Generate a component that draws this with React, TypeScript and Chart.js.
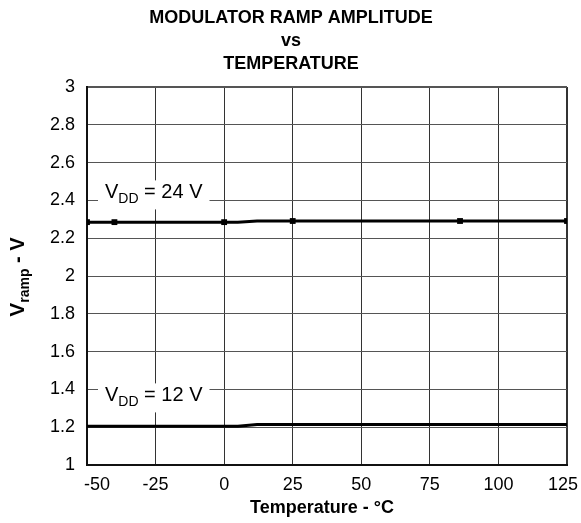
import React, { useEffect, useRef } from "react";
import { Chart, registerables } from "chart.js";

Chart.register(...registerables);

const titleLines = ["MODULATOR RAMP AMPLITUDE", "vs", "TEMPERATURE"];
const xTickValues = [-50, -25, 0, 25, 50, 75, 100, 125];
const yTickValues = [1, 1.2, 1.4, 1.6, 1.8, 2, 2.2, 2.4, 2.6, 2.8, 3];

const temps24 = [-50, -40, 0, 5, 12, 25, 86, 125];
const vramp24 = [2.285, 2.285, 2.285, 2.285, 2.291, 2.291, 2.291, 2.291];
const marks24 = [1, 1, 1, 0, 0, 1, 1, 1];

const temps12 = [-50, 5, 12, 125];
const vramp12 = [1.205, 1.205, 1.214, 1.214];

const labels = [
  { main: "V", sub: "DD", rest: " = 24 V", x: -50, y: 2.4 },
  { main: "V", sub: "DD", rest: " = 12 V", x: -50, y: 1.4 },
];

const FONT = "'Liberation Sans', Arial, sans-serif";

type Part = { text: string; size: number; bold?: boolean; dy: number };

function drawRich(ctx: CanvasRenderingContext2D, parts: Part[], x: number, y: number) {
  let total = 0;
  const widths = parts.map((p) => {
    ctx.font = `${p.bold ? "bold " : ""}${p.size}px ${FONT}`;
    const w = ctx.measureText(p.text).width;
    total += w;
    return w;
  });
  let cx = x - total / 2;
  parts.forEach((p, i) => {
    ctx.font = `${p.bold ? "bold " : ""}${p.size}px ${FONT}`;
    ctx.textAlign = "left";
    ctx.textBaseline = "alphabetic";
    ctx.fillText(p.text, cx, y + p.dy);
    cx += widths[i];
  });
  return total;
}

const decorPlugin = {
  id: "decor",
  afterDraw(chart: any) {
    const ctx: CanvasRenderingContext2D = chart.ctx;
    const xs = chart.scales.x;
    const ys = chart.scales.y;
    ctx.save();
    ctx.fillStyle = "#000";
    // title
    ctx.font = `bold 18px ${FONT}`;
    ctx.textAlign = "center";
    ctx.textBaseline = "middle";
    const tY = [18, 41, 64];
    titleLines.forEach((t, i) => ctx.fillText(t, 291, tY[i]));

    // x tick labels
    ctx.font = `18px ${FONT}`;
    ctx.textBaseline = "middle";
    xTickValues.forEach((v, i) => {
      let px = xs.getPixelForValue(v);
      if (i === 0) px += 10;
      if (i === xTickValues.length - 1) px -= 4;
      ctx.textAlign = "center";
      ctx.fillText(String(v), px, 485);
    });

    // x title
    ctx.font = `bold 18px ${FONT}`;
    ctx.textAlign = "center";
    ctx.fillText("Temperature - °C", 322, 508);

    // y title rotated
    ctx.save();
    ctx.translate(24, 277);
    ctx.rotate(-Math.PI / 2);
    drawRich(
      ctx,
      [
        { text: "V", size: 21, bold: true, dy: 0 },
        { text: "ramp", size: 14, bold: true, dy: 5 },
        { text: " - V", size: 20, bold: true, dy: 0 },
      ],
      0,
      0
    );
    ctx.restore();

    // curve labels
    labels.forEach((l) => {
      const px = xs.getPixelForValue(l.x);
      const py = ys.getPixelForValue(l.y);
      const parts: Part[] = [
        { text: l.main, size: 20, dy: 0 },
        { text: l.sub, size: 14, dy: 5 },
        { text: l.rest, size: 20, dy: 0 },
      ];
      let total = 0;
      parts.forEach((p) => {
        ctx.font = `${p.size}px ${FONT}`;
        total += ctx.measureText(p.text).width;
      });
      const cx = px + 18 + total / 2;
      const base = l.y > 2 ? py - 2 : py + 12;
      ctx.fillStyle = "#fff";
      ctx.fillRect(cx - total / 2 - 7, base - 18, total + 14, 29);
      ctx.fillStyle = "#000";
      drawRich(ctx, parts, cx, base);
    });
    ctx.restore();
  },
};

export default function App() {
  const ref = useRef<HTMLCanvasElement | null>(null);
  useEffect(() => {
    if (!ref.current) return;
    const chart = new Chart(ref.current, {
      type: "line",
      data: {
        datasets: [
          {
            label: "VDD = 24 V",
            data: temps24.map((t, i) => ({ x: t, y: vramp24[i] })),
            borderColor: "#000",
            backgroundColor: "#000",
            borderWidth: 3,
            pointStyle: "rect",
            pointRadius: marks24.map((m) => (m ? 2 : 0)),
            tension: 0,
          },
          {
            label: "VDD = 12 V",
            data: temps12.map((t, i) => ({ x: t, y: vramp12[i] })),
            borderColor: "#000",
            backgroundColor: "#000",
            borderWidth: 3,
            pointRadius: 0,
            tension: 0,
          },
        ],
      },
      options: {
        animation: false,
        responsive: false,
        maintainAspectRatio: false,
        layout: { padding: { top: 87, right: 14, left: 0, bottom: 0 } },
        plugins: { legend: { display: false }, tooltip: { enabled: false }, title: { display: false } },
        scales: {
          x: {
            type: "linear",
            min: -50,
            max: 125,
            afterBuildTicks: (s: any) => {
              s.ticks = xTickValues.map((v) => ({ value: v }));
            },
            afterFit: (s: any) => {
              s.height = 58;
            },
            ticks: { display: false },
            grid: {
              color: "#333",
              lineWidth: (c: any) => (c.tick && c.tick.value === 125 ? 2 : 1),
              drawTicks: false,
            },
            border: { display: true, color: "#111", width: 2 },
          },
          y: {
            type: "linear",
            min: 1,
            max: 3,
            afterBuildTicks: (s: any) => {
              s.ticks = yTickValues.map((v) => ({ value: v }));
            },
            afterFit: (s: any) => {
              s.width = 87;
            },
            ticks: {
              color: "#000",
              font: { family: FONT, size: 18 },
              padding: 12,
              callback: (v: any) => String(Math.round(Number(v) * 10) / 10),
            },
            grid: {
              color: "#555",
              lineWidth: (c: any) => (c.tick && c.tick.value === 3 ? 2 : 1),
              drawTicks: false,
            },
            border: { display: true, color: "#111", width: 2 },
          },
        },
      },
      plugins: [decorPlugin],
    });
    return () => chart.destroy();
  }, []);
  return (
    <div style={{ position: "fixed", left: 0, top: 0, width: 581, height: 523, background: "#fff" }}>
      <canvas ref={ref} width={581} height={523} style={{ width: 581, height: 523 }} />
    </div>
  );
}
